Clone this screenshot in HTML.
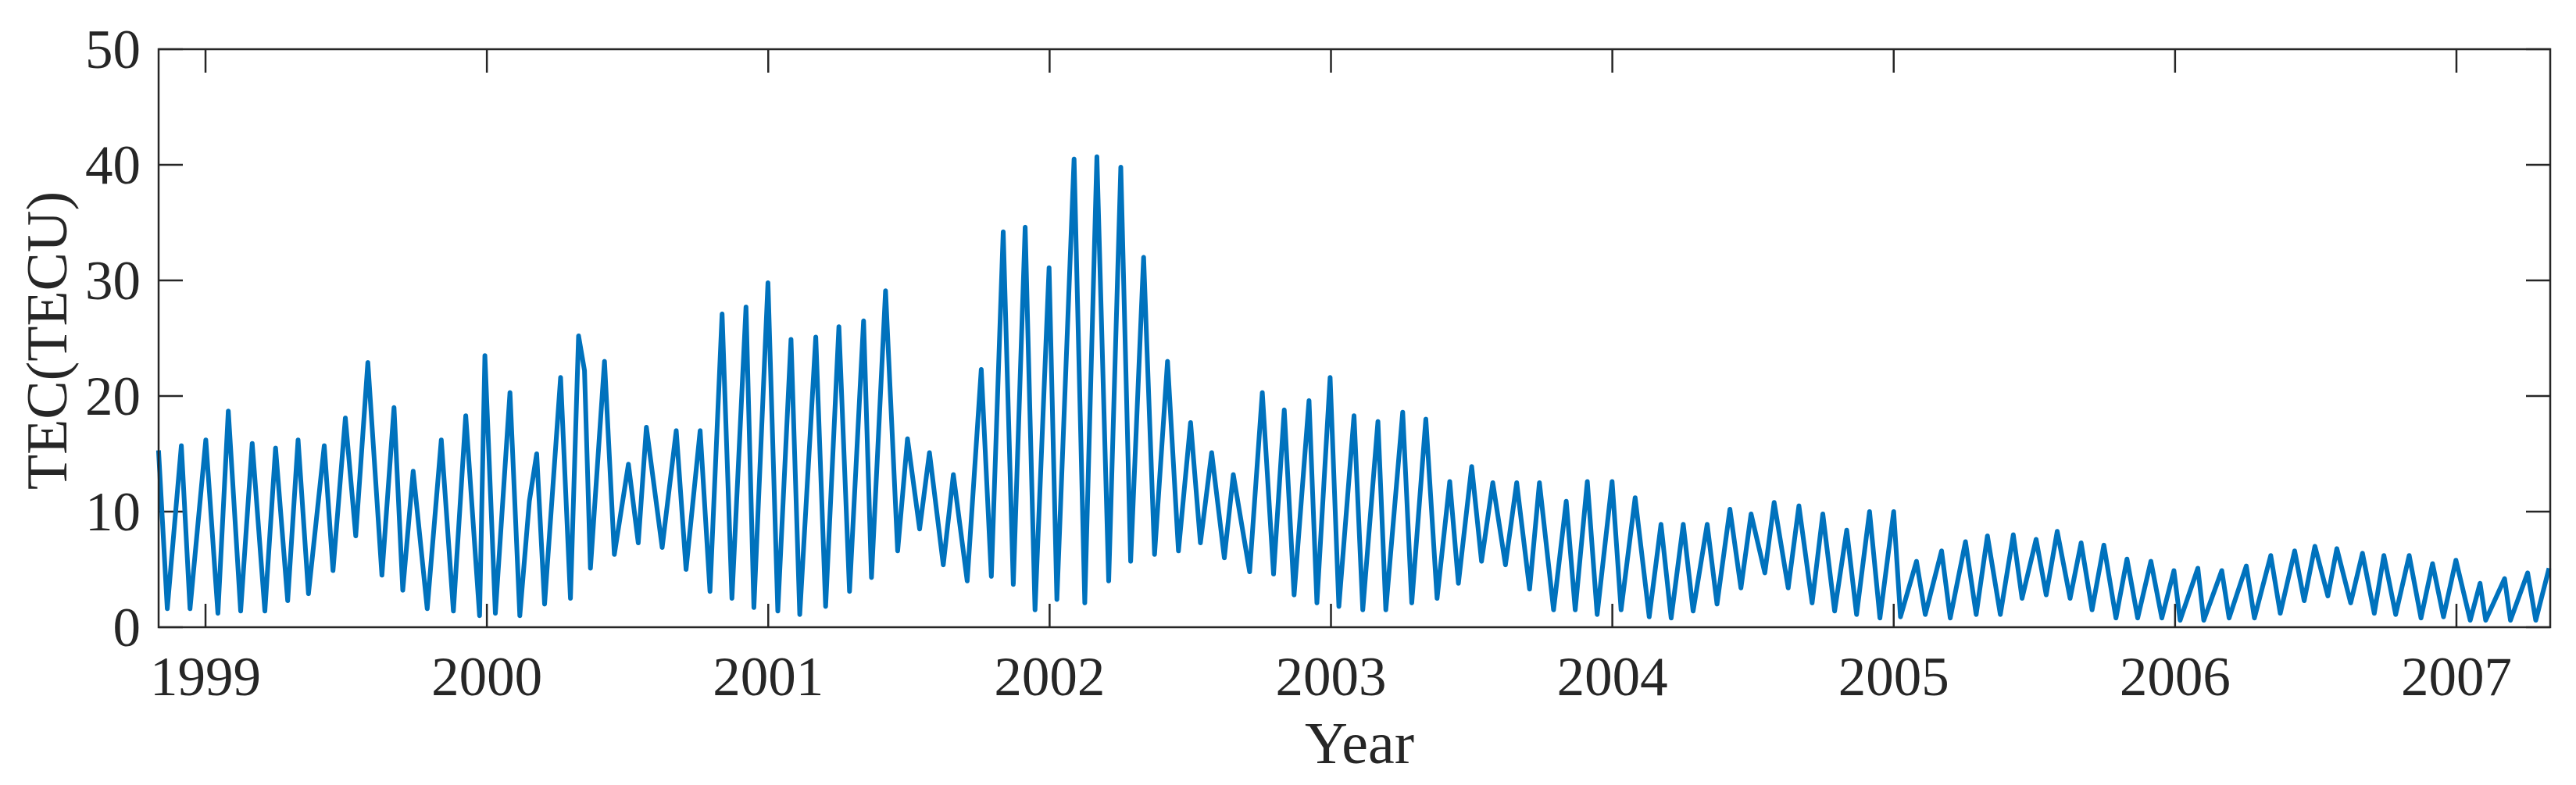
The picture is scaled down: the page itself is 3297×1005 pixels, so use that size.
<!DOCTYPE html>
<html><head><meta charset="utf-8"><style>
html,body{margin:0;padding:0;background:#fff;}
svg{display:block;}
text{font-family:"Liberation Serif",serif;fill:#262626;}
</style></head><body>
<svg id="chart" width="3297" height="1005" viewBox="0 0 3297 1005" xmlns="http://www.w3.org/2000/svg">
<g id="axes"></g>
<path id="series" fill="none" stroke="#0072BD" stroke-width="6" stroke-linejoin="round"/>
<rect x="203" y="63" width="3061" height="740" fill="none" stroke="#262626" stroke-width="2.5"/>
<text x="1740" y="977" font-size="76" text-anchor="middle">Year</text>
<text transform="translate(85,436) rotate(-90)" font-size="74" text-anchor="middle">TEC(TECU)</text>
</svg>
<script>
const years = [1998.833,1998.864,1998.914,1998.945,1999.001,1999.044,1999.081,1999.125,1999.166,1999.211,1999.249,1999.292,1999.329,1999.366,1999.422,1999.453,1999.497,1999.534,1999.577,1999.627,1999.670,1999.701,1999.738,1999.788,1999.838,1999.881,1999.925,1999.974,1999.993,2000.030,2000.082,2000.117,2000.151,2000.177,2000.205,2000.262,2000.297,2000.326,2000.347,2000.368,2000.418,2000.453,2000.503,2000.538,2000.567,2000.623,2000.673,2000.708,2000.758,2000.793,2000.836,2000.871,2000.921,2000.949,2000.999,2001.034,2001.081,2001.112,2001.169,2001.204,2001.251,2001.289,2001.339,2001.367,2001.417,2001.460,2001.495,2001.538,2001.573,2001.622,2001.658,2001.707,2001.757,2001.793,2001.835,2001.871,2001.913,2001.948,2001.998,2002.026,2002.087,2002.125,2002.168,2002.210,2002.253,2002.288,2002.334,2002.373,2002.419,2002.458,2002.501,2002.536,2002.576,2002.621,2002.653,2002.711,2002.756,2002.796,2002.834,2002.869,2002.922,2002.950,2002.997,2003.028,2003.082,2003.113,2003.167,2003.195,2003.255,2003.287,2003.337,2003.377,2003.422,2003.453,2003.500,2003.535,2003.575,2003.620,2003.660,2003.706,2003.741,2003.791,2003.836,2003.868,2003.911,2003.946,2003.999,2004.031,2004.081,2004.131,2004.173,2004.209,2004.252,2004.287,2004.337,2004.372,2004.418,2004.457,2004.493,2004.542,2004.575,2004.625,2004.663,2004.710,2004.748,2004.790,2004.833,2004.868,2004.914,2004.951,2005.000,2005.024,2005.081,2005.112,2005.170,2005.201,2005.255,2005.293,2005.333,2005.379,2005.425,2005.456,2005.506,2005.542,2005.581,2005.627,2005.666,2005.705,2005.747,2005.790,2005.829,2005.867,2005.914,2005.953,2005.996,2006.018,2006.081,2006.102,2006.166,2006.192,2006.253,2006.282,2006.340,2006.374,2006.425,2006.459,2006.497,2006.543,2006.575,2006.624,2006.666,2006.708,2006.742,2006.784,2006.832,2006.874,2006.915,2006.954,2006.998,2007.049,2007.084,2007.104,2007.171,2007.192,2007.253,2007.282,2007.329];
const tecValues = [15.3,1.6,15.7,1.6,16.2,1.2,18.7,1.4,15.9,1.4,15.5,2.3,16.2,2.9,15.7,4.9,18.1,7.9,22.9,4.5,19.0,3.2,13.5,1.6,16.2,1.4,18.3,1.0,23.5,1.2,20.3,1.0,10.9,15.0,2.0,21.6,2.5,25.2,22.2,5.1,23.0,6.3,14.1,7.3,17.3,6.9,17.0,5.0,17.0,3.1,27.1,2.5,27.7,1.7,29.8,1.4,24.9,1.1,25.1,1.8,26.0,3.1,26.5,4.3,29.1,6.6,16.3,8.5,15.1,5.4,13.2,4.0,22.3,4.4,34.2,3.7,34.6,1.5,31.1,2.4,40.5,2.1,40.7,4.0,39.8,5.7,32.0,6.3,23.0,6.6,17.7,7.3,15.1,6.0,13.2,4.8,20.3,4.6,18.8,2.8,19.6,2.1,21.6,1.8,18.3,1.5,17.8,1.5,18.6,2.1,18.0,2.5,12.6,3.8,13.9,5.7,12.5,5.4,12.5,3.3,12.5,1.5,10.9,1.5,12.6,1.1,12.6,1.5,11.2,0.9,8.9,0.8,8.9,1.4,8.9,2.0,10.2,3.4,9.8,4.7,10.8,3.4,10.5,2.1,9.8,1.4,8.4,1.1,10.0,0.8,10.0,0.9,5.7,1.1,6.6,0.8,7.4,1.1,7.9,1.1,8.0,2.5,7.6,2.8,8.3,2.5,7.3,1.5,7.1,0.8,5.9,0.8,5.7,0.8,4.9,0.6,5.1,0.6,4.9,0.8,5.3,0.8,6.2,1.2,6.6,2.3,7.0,2.7,6.8,2.1,6.4,1.2,6.2,1.1,6.2,0.8,5.5,0.9,5.8,0.6,3.8,0.6,4.2,0.6,4.7,0.6,5.1];
const xTickLabels = ["1999","2000","2001","2002","2003","2004","2005","2006","2007"];
const yTickLabels = ["0","10","20","30","40","50"];

const X0=203,X1=3264,Y0=803,Y1=63;
const xMin=1998.8333,xMax=2007.3333,yMin=0,yMax=50;
function xScale(v){return X0+(v-xMin)/(xMax-xMin)*(X1-X0);}
function yScale(v){return Y0-(v-yMin)/(yMax-yMin)*(Y0-Y1);}
const NS="http://www.w3.org/2000/svg";
const axes=document.getElementById('axes');
function mk(tag,attrs){const e=document.createElementNS(NS,tag);for(const k in attrs)e.setAttribute(k,attrs[k]);return e;}

xTickLabels.forEach(l=>{
  const x=xScale(parseFloat(l));
  const t1=mk('line',{x1:x,x2:x,y1:Y0,y2:Y0-30,stroke:'#262626','stroke-width':2.5});
  
  
  axes.appendChild(t1);
  const t2=mk('line',{x1:x,x2:x,y1:Y1,y2:Y1+30,stroke:'#262626','stroke-width':2.5});
  
  
  axes.appendChild(t2);
  const tx=mk('text',{x:x,y:890,'font-size':71,'text-anchor':'middle'});
  tx.textContent=l;
  
  
  axes.appendChild(tx);
});
yTickLabels.forEach(l=>{
  const y=yScale(parseFloat(l));
  const t1=mk('line',{x1:X0,x2:X0+31,y1:y,y2:y,stroke:'#262626','stroke-width':2.5});
  
  
  axes.appendChild(t1);
  const t2=mk('line',{x1:X1,x2:X1-31,y1:y,y2:y,stroke:'#262626','stroke-width':2.5});
  
  
  axes.appendChild(t2);
  const tx=mk('text',{x:180,y:y+24,'font-size':71,'text-anchor':'end'});
  tx.textContent=l;
  
  
  axes.appendChild(tx);
});
let d='';
years.forEach((yr,i)=>{d+=(i?'L':'M')+xScale(yr).toFixed(1)+' '+yScale(tecValues[i]).toFixed(1);});
document.getElementById('series').setAttribute('d',d);
</script>
</body></html>
